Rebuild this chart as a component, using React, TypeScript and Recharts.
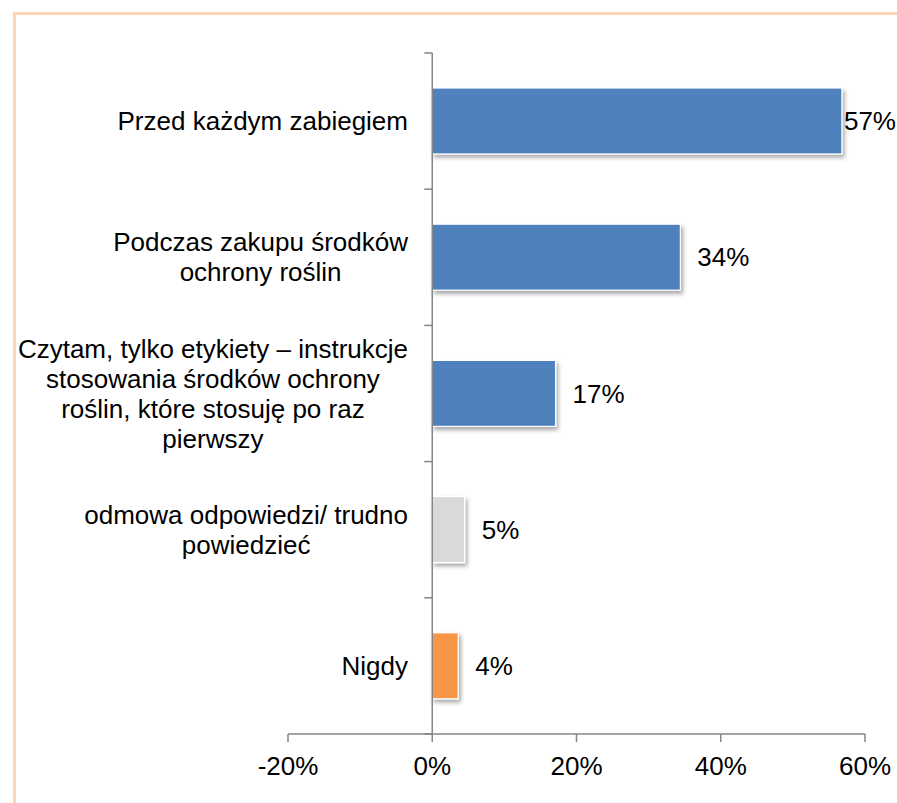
import { BarChart, Bar, XAxis, YAxis, Cell, ReferenceLine, LabelList } from "recharts";

const categories = [
  "Przed każdym zabiegiem",
  "Podczas zakupu środków ochrony roślin",
  "Czytam, tylko etykiety – instrukcje stosowania środków ochrony roślin, które stosuję po raz pierwszy",
  "odmowa odpowiedzi/ trudno powiedzieć",
  "Nigdy",
];

// how the category labels wrap in the original
const categoryLines = [
  ["Przed każdym zabiegiem"],
  ["Podczas zakupu środków", "ochrony roślin"],
  ["Czytam, tylko etykiety – instrukcje", "stosowania środków ochrony", "roślin, które stosuję po raz", "pierwszy"],
  ["odmowa odpowiedzi/ trudno", "powiedzieć"],
  ["Nigdy"],
];

const shares = [56.8, 34.4, 17.1, 4.5, 3.6];

const xTicks = [-20, 0, 20, 40, 60];

const barColors = ["#4F81BD", "#4F81BD", "#4F81BD", "#D9D9D9", "#F79646"];

const data = categories.map((name, i) => ({ name, value: shares[i] }));

const W = 897;
const H = 803;
const MARGIN = { top: 53, right: 32, bottom: 29, left: 228 };
const X_AXIS_H = 40;
const Y_AXIS_W = 60;
const PLOT_LEFT = MARGIN.left + Y_AXIS_W;
const PLOT_W = W - PLOT_LEFT - MARGIN.right;
const PLOT_H = H - MARGIN.top - MARGIN.bottom - X_AXIS_H;
const BAND = PLOT_H / categories.length;
const ZERO_X = PLOT_LEFT + ((0 - xTicks[0]) / (xTicks[xTicks.length - 1] - xTicks[0])) * PLOT_W;
const LABEL_RIGHT = 408;
const LINE_H = 30;
const FONT = "'Liberation Sans', Arial, sans-serif";
const FONT_SIZE = 26;
const AXIS_GREY = "#868686";

let ctx: CanvasRenderingContext2D | null = null;
function textWidth(s: string) {
  if (!ctx) {
    ctx = document.createElement("canvas").getContext("2d");
  }
  if (!ctx) return s.length * FONT_SIZE * 0.5;
  ctx.font = `${FONT_SIZE}px ${FONT}`;
  return ctx.measureText(s).width;
}

function CategoryTick(props: any) {
  const { y, payload } = props;
  const idx = categories.indexOf(payload.value);
  const lines = categoryLines[idx] || [String(payload.value)];
  const blockW = Math.max(...lines.map(textWidth));
  const cx = LABEL_RIGHT - blockW / 2;
  const top = y - ((lines.length - 1) * LINE_H) / 2;
  return (
    <g>
      <text textAnchor="middle" fontSize={FONT_SIZE} fontFamily={FONT} fill="#000">
        {lines.map((l, i) => (
          <tspan key={i} x={cx} y={top + i * LINE_H} dy="0.35em">
            {l}
          </tspan>
        ))}
      </text>
      <line x1={ZERO_X - 8} x2={ZERO_X} y1={y - BAND / 2} y2={y - BAND / 2} stroke={AXIS_GREY} strokeWidth={1.5} />
      {idx === categories.length - 1 && (
        <line x1={ZERO_X - 8} x2={ZERO_X} y1={y + BAND / 2} y2={y + BAND / 2} stroke={AXIS_GREY} strokeWidth={1.5} />
      )}
    </g>
  );
}

function ValueLabel(props: any) {
  const { x, y, width, height, value } = props;
  const txt = `${Math.round(value)}%`;
  const tw = textWidth(txt);
  const lx = Math.min(x + width + 17, W - tw - 1);
  return (
    <text x={lx} y={y + height / 2} dy="0.35em" fontSize={FONT_SIZE} fontFamily={FONT} fill="#000">
      {txt}
    </text>
  );
}

function ShadowBar(props: any) {
  const { x, y, width, height, fill } = props;
  return (
    <rect x={x} y={y} width={width} height={height} fill={fill} stroke="#fff" strokeWidth={1.2} filter="url(#barShadow)" />
  );
}

export default function App() {
  return (
    <div style={{ position: "relative", width: W, height: H, overflow: "hidden", background: "#fff" }}>
      <style>{"body{margin:0}"}</style>
      <svg width={0} height={0} style={{ position: "absolute" }}>
        <defs>
          <filter id="barShadow" x="-20%" y="-20%" width="140%" height="150%">
            <feDropShadow dx={2} dy={3} stdDeviation={2} floodColor="#000" floodOpacity={0.35} />
          </filter>
        </defs>
      </svg>
      <div
        style={{
          position: "absolute",
          left: 13,
          top: 12,
          width: W,
          height: H,
          borderTop: "3px solid #FBD5B5",
          borderLeft: "3px solid #FBD5B5",
        }}
      />
      <div style={{ position: "absolute", left: 0, top: 0 }}>
        <BarChart width={W} height={H} data={data} layout="vertical" margin={MARGIN}>
          <XAxis
            type="number"
            domain={[xTicks[0], xTicks[xTicks.length - 1]]}
            ticks={xTicks}
            tickFormatter={(v) => `${v}%`}
            height={X_AXIS_H}
            tick={{ fill: "#000", fontSize: FONT_SIZE, fontFamily: FONT }}
            tickSize={8}
            tickMargin={15}
            axisLine={{ stroke: AXIS_GREY, strokeWidth: 1.5 }}
            tickLine={{ stroke: AXIS_GREY, strokeWidth: 1.5 }}
            allowDataOverflow
          />
          <YAxis
            type="category"
            dataKey="name"
            width={Y_AXIS_W}
            axisLine={false}
            tickLine={false}
            tick={<CategoryTick />}
            interval={0}
          />
          <ReferenceLine x={0} stroke={AXIS_GREY} strokeWidth={1.5} />
          <Bar dataKey="value" barSize={66} isAnimationActive={false} shape={<ShadowBar />}>
            {data.map((d, i) => (
              <Cell key={d.name} fill={barColors[i]} />
            ))}
            <LabelList dataKey="value" content={<ValueLabel />} />
          </Bar>
        </BarChart>
      </div>
    </div>
  );
}
